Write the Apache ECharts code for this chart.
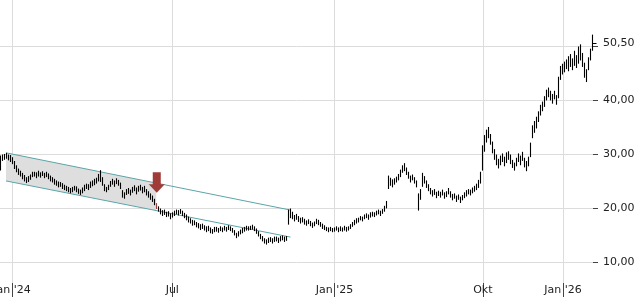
<!DOCTYPE html>
<html><head><meta charset="utf-8">
<script src="https://cdn.jsdelivr.net/npm/echarts@6/dist/echarts.min.js"></script>
<style>html,body{margin:0;padding:0;background:#fff}#c{width:640px;height:300px}</style>
</head><body><div id="c"></div>
<script>
// x tick positions (bar index) and their labels
const xTickIdx = [6, 86, 167, 241, 281];
const xTickLabels = ["Jan '24", "Jul", "Jan '25", "Okt", "Jan '26"];
// y axis gridline values and labels (last price label 50,50)
const yTickValues = [10, 20, 30, 40, 50];
const yLabelValues = [10, 20, 30, 40, 50.5];
const lastClose = 50.5;

// bar lows / highs, one per trading bar
const lows = [
27.0,28.8,29.0,29.2,28.9,28.6,28.2,27.3,26.7,26.2,25.9,25.4,25.0,24.7,24.9,25.3,25.8,25.9,25.6,25.9,
25.7,26.0,25.6,25.8,25.4,25.0,24.8,24.4,24.2,23.9,24.0,23.6,23.4,23.2,23.0,22.8,23.0,23.3,23.0,22.7,
22.5,22.8,23.2,23.6,23.4,23.8,24.1,24.3,24.6,25.0,24.9,24.2,23.2,23.0,23.4,24.0,24.4,24.0,24.5,24.2,
23.6,22.0,21.8,22.5,22.7,22.4,22.9,23.2,22.6,23.1,23.3,22.8,23.0,22.4,22.0,21.6,21.2,20.6,19.9,19.4,
18.9,18.6,18.8,18.4,18.5,18.0,18.3,18.6,18.9,18.7,19.0,18.6,18.2,17.8,17.4,17.2,16.8,16.9,16.5,16.3,
16.0,16.2,15.9,15.6,15.8,15.4,15.3,15.6,15.7,15.5,15.8,15.6,15.9,15.7,16.0,15.8,15.5,15.0,14.5,14.8,
15.2,15.4,15.7,15.9,15.9,16.0,16.1,15.8,15.3,14.8,14.3,13.9,13.5,13.3,13.6,13.8,13.5,13.8,13.9,13.6,
13.9,14.1,13.8,14.0,17.0,18.2,18.0,17.6,17.9,17.5,17.2,17.4,17.0,16.8,17.1,16.7,16.4,16.7,17.1,16.9,
16.6,16.2,16.0,15.8,15.6,15.8,15.6,15.7,15.9,15.6,15.8,15.7,15.9,15.7,15.9,16.2,16.6,16.9,17.2,17.4,
17.8,17.6,18.0,18.2,17.9,18.3,18.5,18.4,18.7,18.9,18.6,19.0,19.4,20.0,23.6,24.2,23.9,24.4,24.8,25.2,
25.8,26.6,26.9,26.2,25.5,24.8,25.2,24.6,23.9,19.6,21.6,24.0,24.6,23.8,23.2,22.6,22.2,22.5,21.9,22.3,
22.0,22.4,21.8,22.1,22.6,22.0,21.5,21.8,21.2,21.6,21.0,21.5,21.9,22.2,22.6,22.4,22.8,23.1,23.4,23.8,
24.6,27.0,30.5,32.2,33.0,31.8,30.2,29.0,28.0,27.4,28.0,28.6,27.8,28.4,29.0,28.2,27.5,27.0,27.8,28.6,
28.0,28.8,27.6,26.9,27.8,29.5,33.0,34.0,34.8,36.0,37.2,38.0,38.8,40.0,40.6,40.0,39.4,40.2,39.2,40.4,
43.8,44.8,45.2,45.8,45.4,46.2,45.6,46.4,46.0,46.8,47.4,46.2,44.2,43.4,45.6,47.4,49.2
];
const highs = [
29.6,29.8,29.9,30.1,29.8,29.7,29.3,28.6,27.8,27.2,26.8,26.4,26.0,25.6,25.8,26.1,26.6,26.6,26.5,26.8,
26.5,26.7,26.4,26.6,26.3,25.9,25.6,25.3,25.0,24.8,24.7,24.5,24.2,24.0,23.8,23.6,23.8,24.0,23.9,23.5,
23.3,23.7,24.2,24.4,24.3,24.8,25.0,25.3,25.5,26.2,26.9,25.6,24.3,23.8,24.2,24.9,25.3,25.0,25.4,25.1,
24.6,23.2,22.8,23.4,23.6,23.3,23.8,24.1,23.7,24.0,24.2,23.8,24.0,23.4,23.0,22.6,22.2,21.6,20.8,20.2,
19.8,19.5,19.6,19.2,19.3,18.9,19.1,19.4,19.6,19.5,19.7,19.4,19.0,18.7,18.3,18.0,17.7,17.6,17.3,17.1,
16.9,17.0,16.7,16.5,16.6,16.3,16.0,16.4,16.4,16.2,16.5,16.3,16.6,16.4,16.7,16.5,16.2,15.8,15.3,15.6,
15.9,16.2,16.4,16.6,16.5,16.6,16.8,16.5,16.1,15.6,15.1,14.7,14.3,14.1,14.4,14.5,14.3,14.6,14.6,14.4,
14.7,14.8,14.6,14.7,19.6,19.8,19.2,18.6,18.8,18.4,18.1,18.2,17.9,17.6,17.8,17.5,17.2,17.4,17.9,17.7,
17.3,17.0,16.7,16.4,16.3,16.4,16.2,16.3,16.5,16.3,16.5,16.3,16.6,16.4,16.5,16.9,17.3,17.7,18.0,18.1,
18.4,18.3,18.7,18.9,18.7,19.1,19.2,19.1,19.4,19.6,19.4,19.7,20.3,21.2,25.9,25.5,25.2,25.4,25.7,26.2,
27.0,27.8,28.2,27.4,26.6,25.9,26.1,25.6,25.0,22.6,23.4,26.4,25.8,25.0,24.3,23.6,23.2,23.4,22.9,23.1,
22.9,23.3,22.8,23.0,23.6,23.0,22.5,22.6,22.2,22.4,22.0,22.3,22.8,23.2,23.4,23.3,23.7,24.0,24.4,25.1,
26.6,31.5,33.4,34.4,34.9,33.6,32.2,30.8,29.8,29.0,29.6,30.0,29.4,30.2,30.4,29.8,28.8,28.3,29.2,30.0,
29.6,30.3,29.2,28.6,29.4,32.0,35.2,36.0,36.8,37.8,39.0,39.6,40.6,41.8,42.2,41.6,41.0,41.6,40.8,44.2,
46.2,46.6,47.0,47.4,48.0,48.4,47.6,49.0,48.2,49.8,50.2,48.6,46.8,45.6,47.8,49.4,52.0
];

// trend channel (bar index, value) and the signal
const channelUpper = [[3, 30.2], [145, 19.6]];
const channelLower = [[3, 25.0], [145, 14.6]];
const channelFillEnd = 78;
const signalIdx = 78;
const signalTip = 22.8;

const N = lows.length;
const categories = Array.from({length: N}, (_, i) => i);
const barData = categories.map(i => [i, lows[i], highs[i]]);

const chart = echarts.init(document.getElementById('c'), null, {renderer: 'canvas'});
const FONT = 'DejaVu Sans';
const isTick = (idx) => xTickIdx.indexOf(idx) >= 0;

chart.setOption({
  animation: false,
  grid: {left: 0, right: 47, top: 0, bottom: 17, containLabel: false, outerBoundsMode: 'none'},
  xAxis: {
    type: 'category', data: categories, boundaryGap: false,
    axisLine: {show: false},
    axisTick: {show: true, interval: isTick, length: 14, lineStyle: {color: '#444', width: 1}},
    axisLabel: {interval: isTick, margin: 2, fontFamily: FONT, fontSize: 11, color: '#222', hideOverlap: false,
      formatter: (v) => { const k = xTickIdx.indexOf(Number(v)); return k >= 0 ? xTickLabels[k] : ''; }},
    splitLine: {show: true, interval: isTick, lineStyle: {color: '#dcdcdc', width: 1}}
  },
  yAxis: {
    type: 'value', position: 'right', min: 6.1, max: 58.5, scale: true,
    axisLine: {show: false},
    axisTick: {show: true, customValues: yTickValues, length: 5, lineStyle: {color: '#444'}},
    axisLabel: {customValues: yLabelValues, margin: 10, fontFamily: FONT, fontSize: 11, color: '#222',
      formatter: (v) => v.toFixed(2).replace('.', ',')},
    splitLine: {show: true, lineStyle: {color: '#dcdcdc', width: 1}}
  },
  series: [
    {
      type: 'custom', name: 'channel', clip: true, z: 1,
      data: [[0]],
      renderItem: function (params, api) {
        const u0 = api.coord(channelUpper[0]), u1 = api.coord(channelUpper[1]);
        const l0 = api.coord(channelLower[0]), l1 = api.coord(channelLower[1]);
        const xe = api.coord([channelFillEnd, 0])[0];
        const tU = (xe - u0[0]) / (u1[0] - u0[0]);
        const tL = (xe - l0[0]) / (l1[0] - l0[0]);
        const ue = [xe, u0[1] + (u1[1] - u0[1]) * tU];
        const le = [xe, l0[1] + (l1[1] - l0[1]) * tL];
        return {type: 'group', children: [
          {type: 'polygon', shape: {points: [u0, ue, le, l0]}, style: {fill: '#dedede'}},
          {type: 'line', shape: {x1: u0[0], y1: u0[1], x2: u1[0], y2: u1[1]}, style: {stroke: '#5aa5a8', lineWidth: 1}},
          {type: 'line', shape: {x1: l0[0], y1: l0[1], x2: l1[0], y2: l1[1]}, style: {stroke: '#5aa5a8', lineWidth: 1}}
        ]};
      }
    },
    {
      type: 'custom', name: 'bars', clip: false, z: 3,
      data: barData,
      renderItem: function (params, api) {
        const i = api.value(0);
        const lo = api.coord([i, api.value(1)]);
        const hi = api.coord([i, api.value(2)]);
        const x = Math.min(Math.floor(lo[0]), 592) + 0.5;
        const children = [{type: 'line', shape: {x1: x, y1: lo[1] + 0.5, x2: x, y2: hi[1] - 0.5},
          style: {stroke: i === signalIdx ? '#a03c37' : '#000', lineWidth: 1.1}}];
        if (i === N - 1) {
          const c = api.coord([i, lastClose]);
          children.push({type: 'line', shape: {x1: x, y1: Math.round(c[1]) + 0.5, x2: x + 4, y2: Math.round(c[1]) + 0.5}, style: {stroke: '#000', lineWidth: 1}});
        }
        return {type: 'group', children: children};
      }
    },
    {
      type: 'custom', name: 'signal', clip: false, z: 5,
      data: [[signalIdx, signalTip]],
      renderItem: function (params, api) {
        const p = api.coord([api.value(0), api.value(1)]);
        const x = p[0] + 0.5, y = p[1];
        return {type: 'polygon', shape: {points: [
          [x - 4, y - 20.5], [x + 4, y - 20.5], [x + 4, y - 8.5], [x + 8, y - 8.5],
          [x, y], [x - 8, y - 8.5], [x - 4, y - 8.5]
        ]}, style: {fill: '#a03c37'}};
      }
    }
  ]
});
</script></body></html>
